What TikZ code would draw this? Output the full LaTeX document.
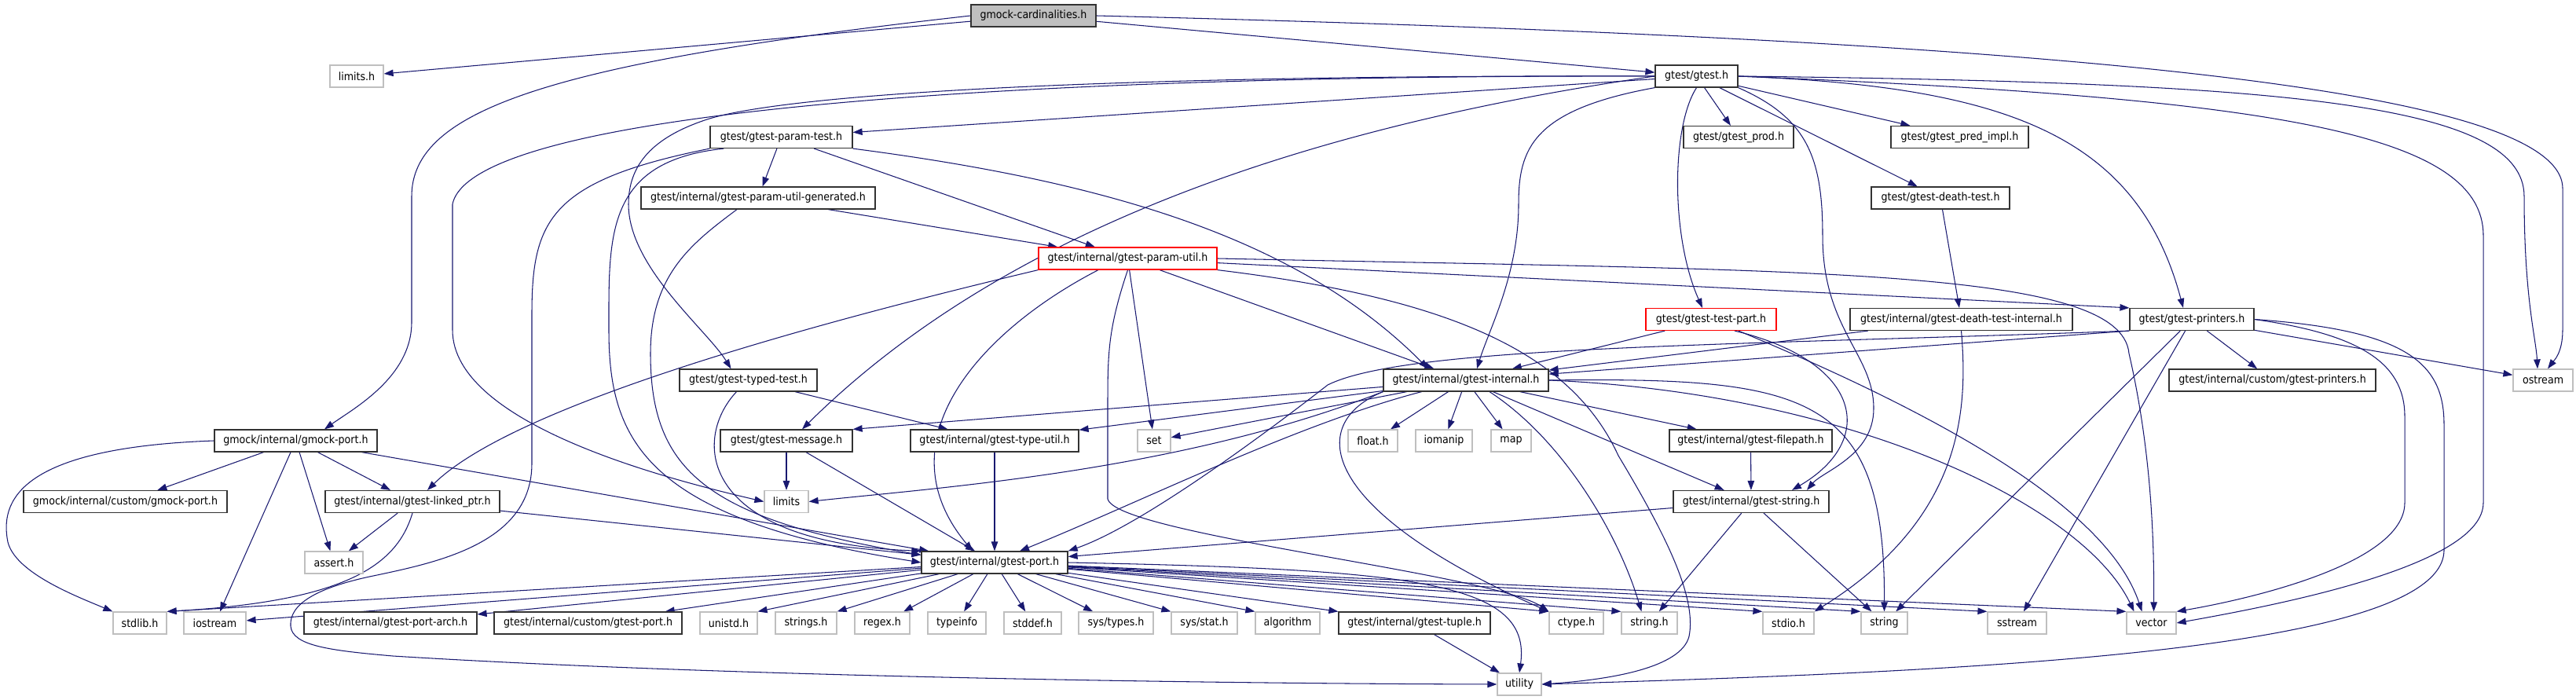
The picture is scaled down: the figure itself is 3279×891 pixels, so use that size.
\documentclass[tikz,border=0pt]{standalone}
\usepackage{fontspec}
\setmainfont{DejaVu Sans Condensed}
\usetikzlibrary{arrows.meta,backgrounds}
\definecolor{incblue}{HTML}{191970}
\definecolor{sysgray}{HTML}{BFBFBF}

\begin{document}
\begin{tikzpicture}[
        x=0.02cm, y=-0.02cm,
        wd/.style={minimum width=#1*0.02cm},
        file/.style={draw=black!80, line width=0.7pt, fill=white, rectangle, minimum height=0.56cm, inner xsep=1pt, inner ysep=0pt, font=\fontsize{8}{9}\selectfont},
        sysfile/.style={file, draw=sysgray},
        cutfile/.style={file, draw=red},
        mainfile/.style={file, fill=sysgray},
        inc/.style={-{Triangle[length=0.24cm,width=0.17cm]}, incblue, line width=0.6pt}
    ]
        \useasboundingbox (0,0) rectangle (3279,891);

        % Top
        \node[mainfile, wd=159] (root) at (1315.5,20) {gmock-cardinalities.h};
        \node[sysfile, wd=68] (limitsh) at (454,97) {limits.h};
        \node[file, wd=105] (gtest) at (2159.5,97) {gtest/gtest.h};

        % Headers included by gtest.h
        \node[file, wd=181] (paramtest) at (994.5,174.5) {gtest/gtest-param-test.h};
        \node[file, wd=140] (prod) at (2213,174.5) {gtest/gtest\_prod.h};
        \node[file, wd=175] (predimpl) at (2494.5,174.5) {gtest/gtest\_pred\_impl.h};
        \node[file, wd=298] (paramgen) at (965,252) {gtest/internal/gtest-param-util-generated.h};
        \node[file, wd=176] (deathtest) at (2470,252) {gtest/gtest-death-test.h};
        \node[cutfile, wd=227] (paramutil) at (1435.5,329) {gtest/internal/gtest-param-util.h};
        \node[cutfile, wd=166] (testpart) at (2178,406.5) {gtest/gtest-test-part.h};
        \node[file, wd=283] (deathint) at (2496.5,406.5) {gtest/internal/gtest-death-test-internal.h};
        \node[file, wd=158] (printers) at (2790,406.5) {gtest/gtest-printers.h};

        % Middle rows
        \node[file, wd=175] (typedtest) at (952.5,484) {gtest/gtest-typed-test.h};
        \node[file, wd=210] (internal) at (1866,484) {gtest/internal/gtest-internal.h};
        \node[file, wd=263] (cprinters) at (2892.5,484) {gtest/internal/custom/gtest-printers.h};
        \node[sysfile, wd=76] (ostream) at (3237,484) {ostream};
        \node[file, wd=207] (gmockport) at (376.5,561) {gmock/internal/gmock-port.h};
        \node[file, wd=168] (message) at (1001,561) {gtest/gtest-message.h};
        \node[file, wd=214] (typeutil) at (1266,561) {gtest/internal/gtest-type-util.h};
        \node[sysfile, wd=42] (set) at (1469,561) {set};
        \node[sysfile, wd=63] (floath) at (1747.5,561) {float.h};
        \node[sysfile, wd=72] (iomanip) at (1838,561) {iomanip};
        \node[sysfile, wd=51] (map) at (1923.5,561) {map};
        \node[file, wd=207] (filepath) at (2228.5,561) {gtest/internal/gtest-filepath.h};
        \node[file, wd=259] (cgmockport) at (159.5,638.5) {gmock/internal/custom/gmock-port.h};
        \node[file, wd=222] (linkedptr) at (525,638.5) {gtest/internal/gtest-linked\_ptr.h};
        \node[sysfile, wd=56] (limits) at (1001,638.5) {limits};
        \node[file, wd=198] (gstring) at (2229,638.5) {gtest/internal/gtest-string.h};
        \node[sysfile, wd=74] (asserth) at (425,716) {assert.h};
        \node[file, wd=186] (port) at (1266,716) {gtest/internal/gtest-port.h};

        % Bottom row
        \node[sysfile, wd=68] (stdlibh) at (178,793) {stdlib.h};
        \node[sysfile, wd=79] (iostream) at (273.5,793) {iostream};
        \node[file, wd=220] (portarch) at (497,793) {gtest/internal/gtest-port-arch.h};
        \node[file, wd=239] (cport) at (748.5,793) {gtest/internal/custom/gtest-port.h};
        \node[sysfile, wd=73] (unistdh) at (927.5,793) {unistd.h};
        \node[sysfile, wd=78] (stringsh) at (1026,793) {strings.h};
        \node[sysfile, wd=70] (regexh) at (1123,793) {regex.h};
        \node[sysfile, wd=74] (typeinfo) at (1218,793) {typeinfo};
        \node[sysfile, wd=73] (stddefh) at (1314.5,793) {stddef.h};
        \node[sysfile, wd=95] (systypes) at (1420.5,793) {sys/types.h};
        \node[sysfile, wd=84] (sysstat) at (1533,793) {sys/stat.h};
        \node[sysfile, wd=82] (algorithm) at (1639,793) {algorithm};
        \node[file, wd=193] (tuple) at (1800.5,793) {gtest/internal/gtest-tuple.h};
        \node[sysfile, wd=69] (ctypeh) at (2006.5,793) {ctype.h};
        \node[sysfile, wd=71] (stringh) at (2099.5,793) {string.h};
        \node[sysfile, wd=65] (stdioh) at (2276.5,793) {stdio.h};
        \node[sysfile, wd=59] (string) at (2398.5,793) {string};
        \node[sysfile, wd=75] (sstream) at (2567.5,793) {sstream};
        \node[sysfile, wd=63] (vector) at (2738.5,793) {vector};
        \node[sysfile, wd=56] (utility) at (1934,871) {utility};

        \begin{scope}[on background layer]
        % gmock-cardinalities.h
        \draw[inc] (root) -- (limitsh);
        \draw[inc] (root.west) .. controls (700,80) and (524,140) .. (524,250) -- (524,410) .. controls (524,480) and (450,520) .. ([xshift=0.73cm]gmockport.north);
        \draw[inc] (root) -- (gtest);
        \draw[inc] (root.east) .. controls (2600,50) and (3262,110) .. (3262,240) -- (3262,420) .. controls (3262,450) and (3250,460) .. ([xshift=0.12cm]ostream.north);

        % gtest.h
        \draw[inc] (gtest) -- (paramtest);
        \draw[inc] (gtest) -- (prod);
        \draw[inc] (gtest) -- (predimpl);
        \draw[inc] (gtest) -- (deathtest);
        \draw[inc] (gtest.west) .. controls (1600,170) and (1250,320) .. ([xshift=0.4cm]message.north);
        \draw[inc] (gtest.south west) .. controls (1950,140) and (1933,190) .. (1933,260) .. controls (1933,350) and (1895,420) .. ([xshift=0.28cm]internal.north);
        \draw[inc] (gtest.south) .. controls (2128,160) and (2126,300) .. ([xshift=-0.22cm]testpart.north);
        \draw[inc] (gtest.south east) .. controls (2300,150) and (2320,200) .. (2320,300) .. controls (2320,420) and (2385,450) .. (2385,520) .. controls (2385,580) and (2320,600) .. ([xshift=1.42cm]gstring.north);
        \draw[inc] (gtest.east) .. controls (2550,110) and (2720,170) .. ([xshift=-0.22cm]printers.north);
        \draw[inc] (gtest.east) .. controls (2900,125) and (3161,170) .. (3161,300) -- (3161,640) .. controls (3161,720) and (2900,770) .. (vector.east);
        \draw[inc] (gtest.east) .. controls (2900,105) and (3213,130) .. (3213,250) .. controls (3213,380) and (3228,430) .. ([xshift=-0.14cm]ostream.north);
        \draw[inc] (gtest.west) .. controls (1300,95) and (600,140) .. (576,260) -- (576,420) .. controls (576,540) and (850,610) .. (limits.west);
        \draw[inc] (gtest.west) .. controls (1400,95) and (1000,120) .. (900,152) .. controls (830,175) and (800,210) .. (800,260) .. controls (800,340) and (900,420) .. ([xshift=-0.44cm]typedtest.north);

        % gtest-param-test.h
        \draw[inc] (paramtest) -- (paramgen);
        \draw[inc] (paramtest) -- (paramutil);
        \draw[inc] (paramtest.south east) .. controls (1400,230) and (1650,300) .. ([xshift=-0.96cm]internal.north);
        \draw[inc] ([xshift=0.36cm]paramtest.south west) .. controls (770,205) and (775,300) .. (775,420) .. controls (775,560) and (820,660) .. (port.west);
        \draw[inc] (paramtest.south west) .. controls (700,230) and (677,280) .. (677,400) -- (677,590) .. controls (677,690) and (560,715) .. (480,732) .. controls (400,748) and (368,770) .. (370,797) .. controls (372,822) and (420,828) .. (500,835) .. controls (900,860) and (1500,870) .. (utility.west);

        % gtest-param-util-generated.h
        \draw[inc] (paramgen) -- (paramutil);
        \draw[inc] ([xshift=-0.54cm]paramgen.south) .. controls (880,310) and (828,350) .. (828,450) .. controls (828,600) and (900,660) .. ([yshift=-0.1cm]port.north west);

        % gtest-param-util.h
        \draw[inc] (paramutil.south west) .. controls (1000,420) and (650,520) .. ([xshift=0.38cm]linkedptr.north);
        \draw[inc] ([xshift=-0.75cm]paramutil.south) .. controls (1250,420) and (1120,560) .. ([xshift=-0.56cm]port.north);
        \draw[inc] (paramutil.south) .. controls (1410,420) and (1410,450) .. (1410,520) -- (1410,635) .. controls (1420,680) and (1900,730) .. (ctypeh.north west);
        \draw[inc] (paramutil) -- (set);
        \draw[inc] (paramutil) -- (internal);
        \draw[inc] (paramutil.south east) .. controls (1850,380) and (2000,450) .. (2060,580) .. controls (2120,680) and (2160,760) .. (2150,810) .. controls (2140,850) and (2050,865) .. (utility.east);
        \draw[inc] (paramutil) -- (printers.north west);
        \draw[inc] (paramutil.east) .. controls (2300,345) and (2700,340) .. (2710,450) .. controls (2740,580) and (2742,700) .. ([xshift=0.06cm]vector.north);

        % gtest-typed-test.h, gtest-message.h, gtest-type-util.h
        \draw[inc] (typedtest) -- (typeutil);
        \draw[inc] ([xshift=-0.3cm]typedtest.south) .. controls (880,560) and (890,690) .. (port.north west);
        \draw[inc] (message) -- (limits);
        \draw[inc] (message) -- (port);
        \draw[inc] (typeutil) -- (port);

        % gtest-internal.h
        \draw[inc] (internal) -- (message.north east);
        \draw[inc] (internal) -- (typeutil);
        \draw[inc] (internal) -- (set);
        \draw[inc] (internal.south west) .. controls (1500,600) and (1200,620) .. (limits.east);
        \draw[inc] (internal) .. controls (1650,540) and (1450,640) .. ([xshift=0.64cm]port.north);
        \draw[inc] (internal) -- (floath);
        \draw[inc] (internal) -- (iomanip);
        \draw[inc] (internal) -- (map);
        \draw[inc] (internal) -- (filepath);
        \draw[inc] (internal) -- (gstring);
        \draw[inc] (internal.south west) .. controls (1660,540) and (1680,650) .. (ctypeh.north west);
        \draw[inc] ([xshift=0.6cm]internal.south) .. controls (1990,560) and (2060,680) .. ([xshift=-0.2cm]stringh.north);
        \draw[inc] (internal.east) .. controls (2300,480) and (2400,500) .. (string.north);
        \draw[inc] (internal.east) .. controls (2350,500) and (2650,640) .. ([xshift=-0.44cm]vector.north);

        % gtest-test-part.h, death tests
        \draw[inc] (testpart) -- (internal);
        \draw[inc] ([xshift=0.6cm]testpart.south) .. controls (2370,460) and (2390,560) .. ([xshift=1.04cm]gstring.north);
        \draw[inc] ([xshift=0.7cm]testpart.south) .. controls (2450,520) and (2680,640) .. ([xshift=-0.24cm]vector.north);
        \draw[inc] (deathtest) -- (deathint);
        \draw[inc] (deathint) -- (internal);
        \draw[inc] (deathint.south) .. controls (2505,520) and (2500,660) .. (stdioh.north east);

        % gtest-printers.h
        \draw[inc] (printers) -- (cprinters);
        \draw[inc] (printers) -- (ostream);
        \draw[inc] (printers) -- (sstream);
        \draw[inc] (printers) -- (string);
        \draw[inc] (printers.south west) -- (internal);
        \draw[inc] (printers.south west) .. controls (2200,440) and (1790,440) .. (1690,490) .. controls (1600,560) and (1450,670) .. (port.north east);
        \draw[inc] (printers.east) .. controls (3000,425) and (3061,460) .. (3061,530) -- (3061,640) .. controls (3061,720) and (2850,765) .. (vector.north east);
        \draw[inc] (printers.east) .. controls (3060,420) and (3111,460) .. (3111,540) -- (3111,700) .. controls (3111,830) and (2500,855) .. (utility.east);

        % gtest-filepath.h, gtest-string.h
        \draw[inc] (filepath) -- (gstring);
        \draw[inc] (gstring) -- (stringh);
        \draw[inc] (gstring) -- (string);
        \draw[inc] (gstring) -- (port);

        % gmock-port.h, gtest-linked_ptr.h
        \draw[inc] (gmockport.west) .. controls (20,570) and (0,640) .. (10,690) .. controls (20,730) and (100,760) .. (stdlibh.north west);
        \draw[inc] (gmockport) -- (cgmockport);
        \draw[inc] (gmockport) -- (iostream);
        \draw[inc] (gmockport) -- (asserth);
        \draw[inc] (gmockport) -- (linkedptr);
        \draw[inc] (gmockport) -- (port);
        \draw[inc] (linkedptr) -- (asserth);
        \draw[inc] (linkedptr.south) .. controls (505,720) and (440,765) .. (stdlibh.north east);
        \draw[inc] (linkedptr) -- (port);

        % gtest-port.h
        \draw[inc] (port) -- (stdlibh.north east);
        \draw[inc] (port) -- (iostream);
        \draw[inc] (port) -- (portarch);
        \draw[inc] (port) -- (cport);
        \draw[inc] (port) -- (unistdh.north east);
        \draw[inc] (port) -- (stringsh.north east);
        \draw[inc] (port) -- (regexh);
        \draw[inc] (port) -- (typeinfo);
        \draw[inc] (port) -- (stddefh);
        \draw[inc] (port) -- (systypes);
        \draw[inc] (port) -- (sysstat.north west);
        \draw[inc] (port) -- (algorithm.north west);
        \draw[inc] (port) -- (tuple.north west);
        \draw[inc] (port) -- (ctypeh.north west);
        \draw[inc] (port) -- (stringh.north west);
        \draw[inc] (port) -- (stdioh.north west);
        \draw[inc] (port) -- (string.north west);
        \draw[inc] (port) -- (sstream.north west);
        \draw[inc] (port) -- (vector.north west);
        \draw[inc] (port.east) .. controls (1800,725) and (1950,740) .. (utility.north);
        \draw[inc] (tuple) -- (utility);
        \end{scope}
    \end{tikzpicture}
\end{document}
